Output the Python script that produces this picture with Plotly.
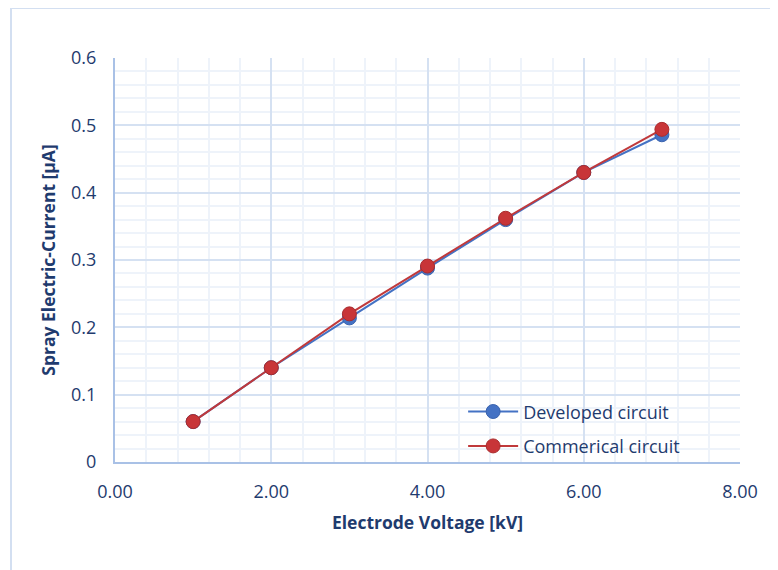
import plotly.graph_objects as go

voltage = [1, 2, 3, 4, 5, 6, 7]
developed = [0.060, 0.140, 0.214, 0.288, 0.360, 0.430, 0.486]
commercial = [0.060, 0.140, 0.220, 0.291, 0.362, 0.430, 0.494]
y_ticks = [0, 0.1, 0.2, 0.3, 0.4, 0.5, 0.6]
y_labels = ["0", "0.1", "0.2", "0.3", "0.4", "0.5", "0.6"]
x_ticks = [0, 2, 4, 6, 8]
x_labels = ["0.00", "2.00", "4.00", "6.00", "8.00"]

text_color = "#1F3B6E"
font_family = "Open Sans, Liberation Sans, sans-serif"

fig = go.Figure()
fig.add_trace(go.Scatter(
    x=voltage, y=developed, name="Developed circuit", mode="lines+markers",
    legendgroup="a",
    line=dict(color="#4472C4", width=2),
    marker=dict(color="#4472C4", size=14, line=dict(color="#3A63AE", width=1)),
))
fig.add_trace(go.Scatter(
    x=voltage, y=commercial, name="Commerical circuit", mode="lines+markers",
    legendgroup="b",
    line=dict(color="#C0393B", width=2),
    marker=dict(color="#C83538", size=14, line=dict(color="#A92C2E", width=1)),
))

# page has an 8px body margin, so the figure is shrunk by 8px on each axis
fig.update_layout(
    width=770, height=562,
    margin=dict(l=107, r=38, t=50, b=108),
    paper_bgcolor="white", plot_bgcolor="white",
    font=dict(family=font_family, color=text_color, size=18),
    showlegend=True,
    legend=dict(x=0.557, y=0.170, xanchor="left", yanchor="top",
                bgcolor="rgba(0,0,0,0)", font=dict(size=18, color=text_color),
                tracegroupgap=8, itemwidth=50, traceorder="grouped"),
    shapes=[dict(type="rect", xref="paper", yref="paper",
                 x0=-0.1664, x1=1.09, y0=-0.30, y1=1.1237,
                 line=dict(color="#D3DFF1", width=2), layer="below")],
)

fig.update_xaxes(
    range=[0, 8], tickvals=x_ticks, ticktext=x_labels,
    showgrid=True, gridcolor="#D5E1F2", gridwidth=1.5,
    minor=dict(dtick=0.4, showgrid=True, gridcolor="#EEF3FA", gridwidth=1.5),
    showline=True, linecolor="#A9C1E6", linewidth=2, mirror=False,
    zeroline=False, ticks="", ticklabelstandoff=12,
    tickfont=dict(size=18, color=text_color),
    title=dict(text="<b>Electrode Voltage [kV]</b>", font=dict(size=17.5, color=text_color), standoff=15),
)
fig.update_yaxes(
    range=[0, 0.6], tickvals=y_ticks, ticktext=y_labels,
    showgrid=True, gridcolor="#D5E1F2", gridwidth=1.5,
    minor=dict(dtick=0.02, showgrid=True, gridcolor="#EEF3FA", gridwidth=1.5),
    showline=True, linecolor="#A9C1E6", linewidth=2,
    zeroline=False, ticks="", ticklabelstandoff=13,
    tickfont=dict(size=18, color=text_color),
    title=dict(text="<b>Spray Electric-Current [µA]</b>", font=dict(size=17.5, color=text_color), standoff=11),
)

fig.write_html("out.html")
